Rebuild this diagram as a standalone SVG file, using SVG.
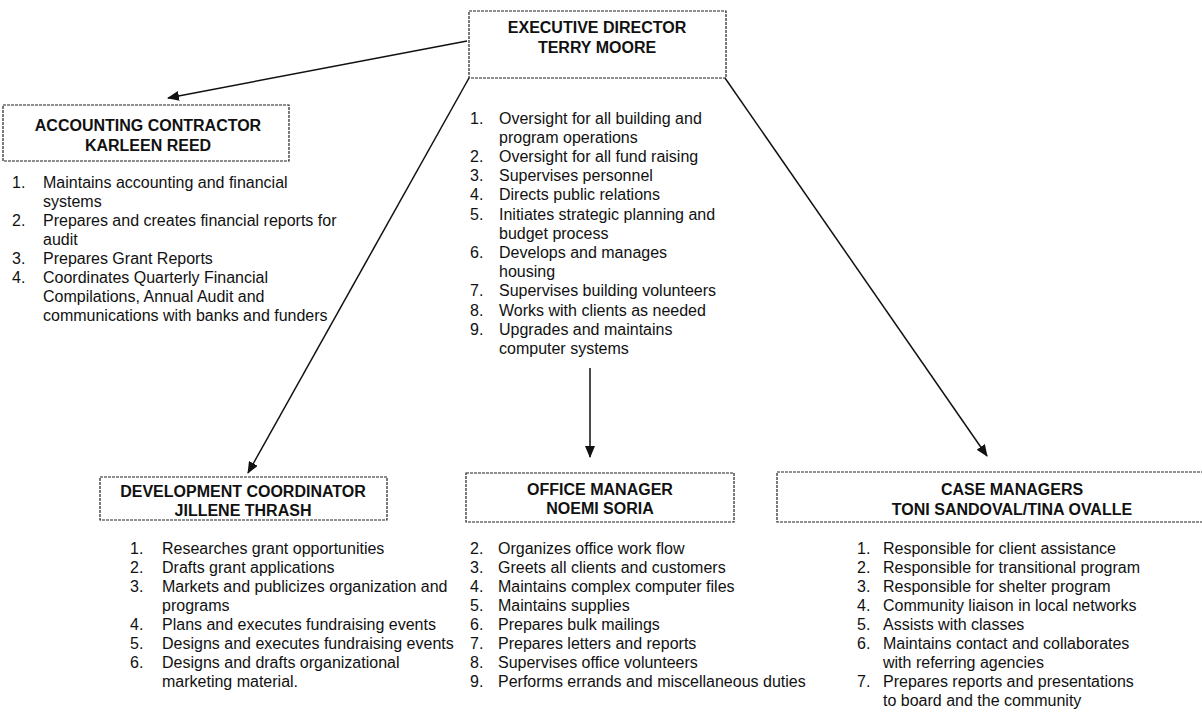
<svg xmlns="http://www.w3.org/2000/svg" width="1202" height="712" viewBox="0 0 1202 712">
<style>
.box{fill:#fff;stroke:#222;stroke-width:1.2;stroke-dasharray:3 1}
.h{font-family:"Liberation Sans",Arial,sans-serif;font-weight:bold;font-size:16px;fill:#111;text-anchor:middle}
.t{font-family:"Liberation Sans",Arial,sans-serif;font-size:16px;fill:#111}
.c{fill:none;stroke:#111;stroke-width:1.5}
</style>
<defs>
<marker id="ah" markerUnits="userSpaceOnUse" markerWidth="12" markerHeight="10" refX="11" refY="5" orient="auto">
<path d="M0,0 L12,5 L0,10 z" fill="#111"/>
</marker>
</defs>
<rect width="1202" height="712" fill="#fff"/>
<g id="connectors">
<path class="c" d="M467,41 L168,98" marker-end="url(#ah)"/>
<path class="c" d="M469,78 L248,473" marker-end="url(#ah)"/>
<path class="c" d="M590,368 L590,457" marker-end="url(#ah)"/>
<path class="c" d="M725,78 L987,456" marker-end="url(#ah)"/>
</g>
<g id="exec">
<rect class="box" x="469" y="11" width="257" height="67"/>
<text class="h" x="597" y="33">EXECUTIVE DIRECTOR</text>
<text class="h" x="597" y="53">TERRY MOORE</text>
<g class="t">
<text x="470" y="124">1.</text><text x="499" y="124">Oversight for all building and</text>
<text x="499" y="143">program operations</text>
<text x="470" y="162">2.</text><text x="499" y="162">Oversight for all fund raising</text>
<text x="470" y="181">3.</text><text x="499" y="181">Supervises personnel</text>
<text x="470" y="200">4.</text><text x="499" y="200">Directs public relations</text>
<text x="470" y="220">5.</text><text x="499" y="220">Initiates strategic planning and</text>
<text x="499" y="239">budget process</text>
<text x="470" y="258">6.</text><text x="499" y="258">Develops and manages</text>
<text x="499" y="277">housing</text>
<text x="470" y="296">7.</text><text x="499" y="296">Supervises building volunteers</text>
<text x="470" y="316">8.</text><text x="499" y="316">Works with clients as needed</text>
<text x="470" y="335">9.</text><text x="499" y="335">Upgrades and maintains</text>
<text x="499" y="354">computer systems</text>
</g>
</g>
<g id="accounting">
<rect class="box" x="3" y="105" width="286" height="56"/>
<text class="h" x="148" y="131">ACCOUNTING CONTRACTOR</text>
<text class="h" x="148" y="151">KARLEEN REED</text>
<g class="t">
<text x="12" y="188">1.</text><text x="43" y="188">Maintains accounting and financial</text>
<text x="43" y="207">systems</text>
<text x="12" y="226">2.</text><text x="43" y="226">Prepares and creates financial reports for</text>
<text x="43" y="245">audit</text>
<text x="12" y="264">3.</text><text x="43" y="264">Prepares Grant Reports</text>
<text x="12" y="283">4.</text><text x="43" y="283">Coordinates Quarterly Financial</text>
<text x="43" y="302">Compilations, Annual Audit and</text>
<text x="43" y="321">communications with banks and funders</text>
</g>
</g>
<g id="development">
<rect class="box" x="100" y="477" width="287" height="43"/>
<text class="h" x="243" y="497">DEVELOPMENT COORDINATOR</text>
<text class="h" x="243" y="516">JILLENE THRASH</text>
<g class="t">
<text x="130" y="554">1.</text><text x="162" y="554">Researches grant opportunities</text>
<text x="130" y="573">2.</text><text x="162" y="573">Drafts grant applications</text>
<text x="130" y="592">3.</text><text x="162" y="592">Markets and publicizes organization  and</text>
<text x="162" y="611">programs</text>
<text x="130" y="630">4.</text><text x="162" y="630">Plans and executes fundraising events</text>
<text x="130" y="649">5.</text><text x="162" y="649">Designs and executes fundraising events</text>
<text x="130" y="668">6.</text><text x="162" y="668">Designs and drafts organizational</text>
<text x="162" y="687">marketing material.</text>
</g>
</g>
<g id="office">
<rect class="box" x="466" y="473" width="268" height="49"/>
<text class="h" x="600" y="495">OFFICE MANAGER</text>
<text class="h" x="600" y="514">NOEMI SORIA</text>
<g class="t">
<text x="470" y="554">2.</text><text x="498" y="554">Organizes office work flow</text>
<text x="470" y="573">3.</text><text x="498" y="573">Greets all clients and customers</text>
<text x="470" y="592">4.</text><text x="498" y="592">Maintains complex computer files</text>
<text x="470" y="611">5.</text><text x="498" y="611">Maintains supplies</text>
<text x="470" y="630">6.</text><text x="498" y="630">Prepares bulk mailings</text>
<text x="470" y="649">7.</text><text x="498" y="649">Prepares letters and reports</text>
<text x="470" y="668">8.</text><text x="498" y="668">Supervises office volunteers</text>
<text x="470" y="687">9.</text><text x="498" y="687">Performs errands and miscellaneous duties</text>
</g>
</g>
<g id="case">
<rect class="box" x="777" y="472" width="470" height="50"/>
<text class="h" x="1012" y="495">CASE MANAGERS</text>
<text class="h" x="1012" y="515">TONI SANDOVAL/TINA OVALLE</text>
<g class="t">
<text x="857" y="554">1.</text><text x="883" y="554">Responsible for client assistance</text>
<text x="857" y="573">2.</text><text x="883" y="573">Responsible for transitional program</text>
<text x="857" y="592">3.</text><text x="883" y="592">Responsible for shelter program</text>
<text x="857" y="611">4.</text><text x="883" y="611">Community liaison in local networks</text>
<text x="857" y="630">5.</text><text x="883" y="630">Assists with classes</text>
<text x="857" y="649">6.</text><text x="883" y="649">Maintains contact and collaborates</text>
<text x="883" y="668">with referring agencies</text>
<text x="857" y="687">7.</text><text x="883" y="687">Prepares reports and presentations</text>
<text x="883" y="706">to board and the community</text>
</g>
</g>
</svg>
